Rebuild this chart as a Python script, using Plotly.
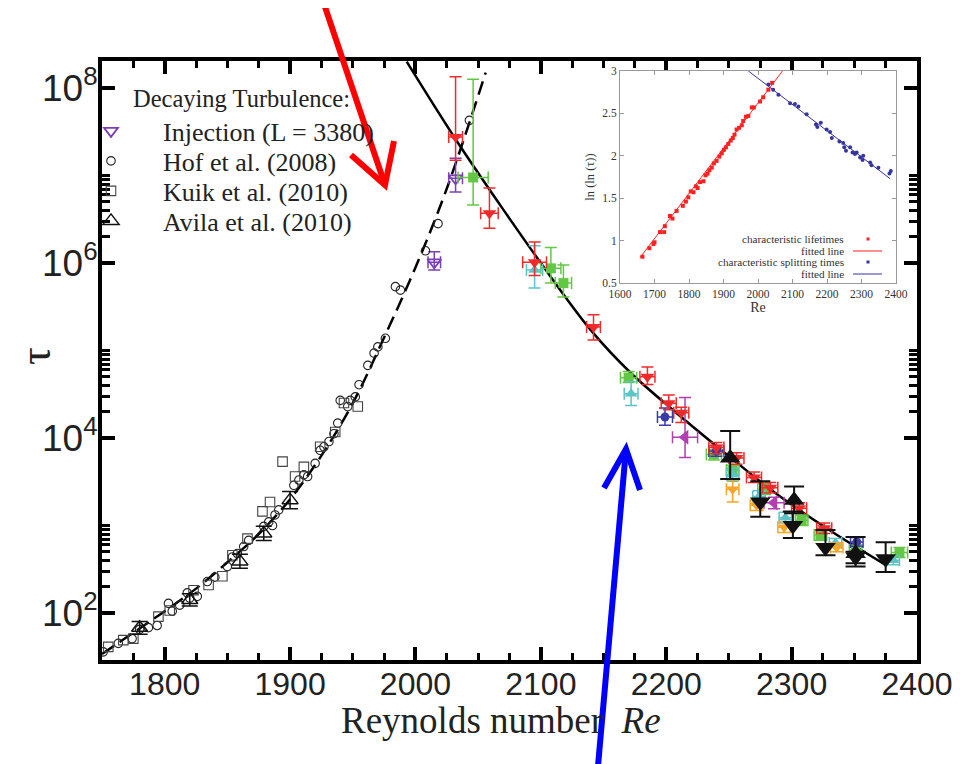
import plotly.graph_objects as go

# ---------------- data ----------------
# Decaying turbulence (left branch)
hof_re = [1751, 1763, 1774, 1780, 1787, 1794, 1803, 1806, 1812, 1818, 1820, 1826, 1834, 1840,
          1850, 1854, 1858, 1863, 1867, 1879, 1883, 1886, 1888, 1891, 1903, 1907, 1911, 1914,
          1920, 1924, 1927, 1931, 1935, 1938, 1940, 1946, 1948, 1952, 1955, 1962, 1967, 1970,
          1976, 1984, 1988, 2008, 2018, 2043]
hof_tau = [36, 45, 51, 65, 68, 72, 129, 105, 123, 170, 148, 155, 229, 257,
           339, 437, 479, 575, 676, 977, 1100, 1000, 1320, 1510, 2880, 3310, 3800, 3630,
           5130, 7240, 7940, 9120, 1.12e4, 1.48e4, 2.69e4, 2.29e4, 2.69e4, 2.95e4, 4.07e4, 6.76e4, 9.33e4, 1.10e5,
           1.38e5, 5.37e5, 4.9e5, 1.38e6, 2.82e6, 4.27e7]

kuik_re = [1755, 1767, 1775, 1795, 1804, 1823, 1835, 1846, 1854, 1866, 1878, 1884, 1894, 1904,
           1911, 1924, 1936, 1943, 1954]
kuik_tau = [41, 49, 51, 91, 107, 182, 209, 263, 457, 708, 1450, 1860, 5370, 3630,
            4680, 7940, 1.17e4, 2.51e4, 2.29e4]

avila_re = [1780, 1820, 1860, 1879, 1900]
avila_tau = [68, 141, 389, 813, 1950]
avila_hi = [80, 166, 470, 980, 2450]
avila_lo = [57, 120, 324, 676, 1550]

inj_re = [2015, 2032]
inj_tau = [1.02e6, 9.3e6]
inj_hi = [1.35e6, 1.58e7]
inj_lo = [8.3e5, 6.5e6]
inj_xerr = [5, 5.5]

# Splitting (right branch), several data sets
red_re = [2032, 2059, 2095, 2142, 2185, 2202, 2212, 2240, 2256, 2270, 2283, 2306, 2326]
red_tau = [2.75e7, 3.7e6, 1.02e6, 1.86e5, 5.0e4, 2.5e4, 1.95e4, 7.8e3, 5.9e3, 3.55e3, 2.7e3, 1.58e3, 930]
red_hi = [1.35e8, 7.2e6, 1.74e6, 2.57e5, 6.5e4, 3.1e4, 2.25e4, 8.9e3, 6.8e3, 4.1e3, 3.1e3, 1.82e3, 1070]
red_lo = [1.5e7, 2.5e6, 7.2e5, 1.32e5, 4.1e4, 2.1e4, 1.5e4, 6.6e3, 5.0e3, 3.1e3, 2.35e3, 1.38e3, 810]
red_xerr = [5.5, 7, 9.5, 5.5, 6, 6, 6, 6, 6, 6, 6, 6, 6]

green_re = [2046, 2108, 2118, 2170, 2238, 2253, 2278, 2308, 2323, 2351, 2386]
green_tau = [9.5e6, 8.7e5, 5.9e5, 4.9e4, 6.5e3, 4.3e3, 2.6e3, 1.15e3, 780, 525, 490]
green_hi = [1.26e8, 1.5e6, 9.5e5, 5.75e4, 7.4e3, 4.9e3, 3.0e3, 1.32e3, 890, 600, 560]
green_lo = [4.6e6, 5.9e5, 4.1e5, 4.3e4, 5.6e3, 3.7e3, 2.26e3, 1.0e3, 680, 460, 430]
green_xerr = [12, 8, 6.5, 6.5, 6, 5, 5, 5, 5, 5, 6.5]

cyan_re = [2095, 2172, 2253, 2274, 2295, 2335, 2381]
cyan_tau = [8.3e5, 3.2e4, 3.8e3, 2.15e3, 1.23e3, 630, 400]
cyan_hi = [1.58e6, 4.4e4, 4.5e3, 2.5e3, 1.42e3, 710, 450]
cyan_lo = [5.2e5, 2.35e4, 3.2e3, 1.85e3, 1.07e3, 560, 355]
cyan_xerr = [6.5, 5.5, 5, 5, 5, 5, 5]

blue_re = [2199, 2240, 2352]
blue_tau = [1.74e4, 7.1e3, 650]
blue_hi = [2.2e4, 8.2e3, 730]
blue_lo = [1.4e4, 6.2e3, 580]
blue_xerr = [6, 6, 5]

mag_re = [2215, 2286]
mag_tau = [1.02e4, 1.82e3]
mag_hi = [2.9e4, 2.1e3]
mag_lo = [6.0e3, 1.55e3]
mag_xerr = [10, 8]

orange_re = [2253, 2272, 2294, 2336]
orange_tau = [2.6e3, 1.7e3, 955, 560]
orange_hi = [3.3e3, 1.95e3, 1.1e3, 630]
orange_lo = [1.86e3, 1.48e3, 830, 500]
orange_xerr = [5, 5, 5, 5]

bup_re = [2251, 2302, 2351]
bup_tau = [5.9e3, 1.95e3, 480]
bup_hi = [1.2e4, 2.8e3, 740]
bup_lo = [3.4e3, 1.38e3, 340]

bdn_re = [2275, 2301, 2327, 2351, 2375]
bdn_tau = [1.86e3, 1.0e3, 560, 437, 417]
bdn_hi = [3.2e3, 1.45e3, 890, 500, 645]
bdn_lo = [1.26e3, 720, 457, 370, 295]

# Fitted curves
decay_fit_re = [1750, 1800, 1825, 1850, 1875, 1900, 1925, 1950, 1975, 2000, 2025, 2056]
decay_fit_tau = [34, 105, 190, 380, 800, 2000, 6300, 2.5e4, 1.41e5, 8.9e5, 7.1e6, 1.5e8]
split_fit_re = [1993, 2032, 2068, 2100, 2140, 2172, 2207, 2250, 2287, 2330, 2375]
split_fit_tau = [2.0e8, 2.6e7, 4.5e6, 1.0e6, 1.7e5, 5.5e4, 2.0e4, 6.2e3, 2.35e3, 890, 355]

# Inset: ln(ln(tau)) vs Re
in_life_re = [1665, 1685, 1697, 1700, 1716, 1728, 1730, 1745, 1752, 1764, 1782, 1791, 1798, 1805,
              1813, 1820, 1825, 1832, 1842, 1848, 1854, 1859, 1866, 1872, 1880, 1888, 1895, 1901,
              1907, 1914, 1921, 1927, 1932, 1938, 1945, 1953, 1957, 1965, 1972, 1982, 1988, 2006,
              2015, 2030, 2041]
in_life_val = [0.81, 0.91, 0.96, 0.98, 1.10, 1.10, 1.17, 1.29, 1.26, 1.35, 1.41, 1.46, 1.51, 1.58,
               1.57, 1.64, 1.62, 1.69, 1.70, 1.77, 1.79, 1.83, 1.86, 1.91, 1.94, 1.99, 2.03, 2.07,
               2.10, 2.14, 2.18, 2.21, 2.25, 2.31, 2.33, 2.36, 2.41, 2.46, 2.47, 2.57, 2.57, 2.64,
               2.69, 2.78, 2.86]
in_split_re = [2030, 2044, 2059, 2093, 2107, 2117, 2141, 2168, 2172, 2182, 2199, 2209, 2214, 2236,
               2247, 2250, 2255, 2267, 2274, 2281, 2286, 2296, 2303, 2305, 2325, 2329, 2349, 2381, 2385]
in_split_val = [2.84, 2.78, 2.72, 2.62, 2.61, 2.58, 2.49, 2.37, 2.34, 2.39, 2.31, 2.28, 2.21, 2.17,
                2.15, 2.10, 2.06, 2.10, 2.04, 2.02, 2.04, 1.98, 1.95, 2.00, 1.92, 1.89, 1.86, 1.79, 1.82]
in_life_fit_re = [1658, 2071]
in_life_fit_val = [0.80, 3.0]
in_split_fit_re = [1972, 2383]
in_split_fit_val = [3.0, 1.73]

y_tickvals = [1e2, 1e4, 1e6, 1e8]
y_ticktext = ["10<sup>2</sup>", "10<sup>4</sup>", "10<sup>6</sup>", "10<sup>8</sup>"]
y_minor_vals = [k * 10 ** n for n in (2, 4, 6) for k in range(2, 10)] + [1e3, 1e5, 1e7]

# ---------------- styling / layout geometry ----------------
OFF = 8                      # page offset of the figure (body margin)
FW, FH = 960 - OFF, 764 - OFF
BOX_L, BOX_R, BOX_T, BOX_B = 102, 917, 61, 660   # plot box in page pixels
ML, MT = BOX_L - OFF, BOX_T - OFF
MR, MB = FW - (BOX_R - OFF), FH - (BOX_B - OFF)
PW, PH = BOX_R - BOX_L, BOX_B - BOX_T

SANS = "Liberation Sans, Arial, sans-serif"
SERIF = "Liberation Serif, Times New Roman, serif"

RED = "#f02a2a"
GREEN = "#62c843"
CYAN = "#5cc3c6"
BLUE = "#3a3aa8"
MAG = "#b23fb0"
ORANGE = "#f7a623"
PURPLE = "#7b3fb5"


def pxx(x):
    return (x - BOX_L) / PW


def pxy(y):
    return (BOX_B - y) / PH


def yerr(tau, hi, lo, color, width=5, thick=1.5):
    return dict(type="data", symmetric=False,
                array=[h - t for h, t in zip(hi, tau)],
                arrayminus=[t - l for t, l in zip(tau, lo)],
                color=color, thickness=thick, width=width)


def xerr(vals, color, width=5, thick=1.5):
    return dict(type="data", array=vals, color=color, thickness=thick, width=width)


fig = go.Figure()

# fitted curves
fig.add_trace(go.Scatter(x=decay_fit_re, y=decay_fit_tau, mode="lines", line_shape="spline",
                         line=dict(color="black", width=2.5, dash="14px,7px"), showlegend=False))
fig.add_trace(go.Scatter(x=split_fit_re, y=split_fit_tau, mode="lines", line_shape="spline",
                         line=dict(color="black", width=2.5), showlegend=False))

# left branch data (each in its own legend row)
fig.add_trace(go.Scatter(x=inj_re, y=inj_tau, mode="markers", name="Injection (L = 3380)", legend="legend",
                         marker=dict(symbol="triangle-down-open", size=12, color=PURPLE, line=dict(width=1.8)),
                         error_y=yerr(inj_tau, inj_hi, inj_lo, PURPLE, 6),
                         error_x=xerr(inj_xerr, PURPLE, 6)))
fig.add_trace(go.Scatter(x=hof_re, y=hof_tau, mode="markers", name="Hof et al. (2008)", legend="legend2",
                         marker=dict(symbol="circle-open", size=8.5, color="#222", line=dict(width=1.1))))
fig.add_trace(go.Scatter(x=kuik_re, y=kuik_tau, mode="markers", name="Kuik et al. (2010)", legend="legend3",
                         marker=dict(symbol="square-open", size=9.5, color="#444", line=dict(width=1.1))))
fig.add_trace(go.Scatter(x=avila_re, y=avila_tau, mode="markers", name="Avila et al. (2010)", legend="legend4",
                         marker=dict(symbol="triangle-up-open", size=14, color="#111", line=dict(width=1.5)),
                         error_y=yerr(avila_tau, avila_hi, avila_lo, "#111", 8)))


# right branch data
def colored(re, tau, hi, lo, xe, color, symbol, size):
    fig.add_trace(go.Scatter(x=re, y=tau, mode="markers", showlegend=False,
                             marker=dict(symbol=symbol, size=size, color=color),
                             error_y=yerr(tau, hi, lo, color, 6),
                             error_x=xerr(xe, color, 6)))


colored(green_re, green_tau, green_hi, green_lo, green_xerr, GREEN, "square", 10)
colored(cyan_re, cyan_tau, cyan_hi, cyan_lo, cyan_xerr, CYAN, "triangle-up", 11)
colored(orange_re, orange_tau, orange_hi, orange_lo, orange_xerr, ORANGE, "triangle-down", 11)
colored(blue_re, blue_tau, blue_hi, blue_lo, blue_xerr, BLUE, "circle", 9)
colored(mag_re, mag_tau, mag_hi, mag_lo, mag_xerr, MAG, "triangle-left", 13)
colored(red_re, red_tau, red_hi, red_lo, red_xerr, RED, "triangle-down", 12)

fig.add_trace(go.Scatter(x=bup_re, y=bup_tau, mode="markers", showlegend=False,
                         marker=dict(symbol="triangle-up", size=18, color="#111"),
                         error_y=yerr(bup_tau, bup_hi, bup_lo, "#111", 10, 2)))
fig.add_trace(go.Scatter(x=bdn_re, y=bdn_tau, mode="markers", showlegend=False,
                         marker=dict(symbol="triangle-down", size=18, color="#111"),
                         error_y=yerr(bdn_tau, bdn_hi, bdn_lo, "#111", 10, 2)))

# inset
fig.add_trace(go.Scatter(x=in_life_fit_re, y=in_life_fit_val, mode="lines", xaxis="x2", yaxis="y2",
                         line=dict(color="#ff2020", width=1), showlegend=False))
fig.add_trace(go.Scatter(x=in_split_fit_re, y=in_split_fit_val, mode="lines", xaxis="x2", yaxis="y2",
                         line=dict(color="#3535a0", width=1), showlegend=False))
fig.add_trace(go.Scatter(x=in_life_re, y=in_life_val, mode="markers", xaxis="x2", yaxis="y2",
                         marker=dict(symbol="square", size=4, color="#ff2020"), showlegend=False))
fig.add_trace(go.Scatter(x=in_split_re, y=in_split_val, mode="markers", xaxis="x2", yaxis="y2",
                         marker=dict(symbol="circle", size=4, color="#3535a0"), showlegend=False))

axis_common = dict(showline=True, linecolor="black", linewidth=4, mirror="allticks",
                   ticks="inside", tickcolor="black", tickwidth=4, ticklen=13,
                   showgrid=False, zeroline=False)

legend_rows = [131, 161, 191, 221]
legend_style = dict(xanchor="left", yanchor="middle", itemwidth=94,
                    font=dict(family=SERIF, size=26, color="#222"), bgcolor="rgba(0,0,0,0)",
                    borderwidth=0)

fig.update_layout(
    width=FW, height=FH,
    margin=dict(l=ML, r=MR, t=MT, b=MB, autoexpand=False),
    paper_bgcolor="white", plot_bgcolor="white",
    xaxis=dict(axis_common, range=[1750, 2400], tick0=1800, dtick=100,
               tickfont=dict(family=SANS, size=32, color="#222"), ticklabelstandoff=-7,
               minor=dict(dtick=25, tick0=1750, ticks="inside", ticklen=7, tickwidth=2.5, tickcolor="black")),
    yaxis=dict(axis_common, type="log", range=[1.463, 8.309],
               tickmode="array", tickvals=y_tickvals, ticktext=y_ticktext,
               tickfont=dict(family=SANS, size=37, color="#222"), ticklabelstandoff=-7,
               minor=dict(tickmode="array", tickvals=y_minor_vals, ticks="inside", ticklen=8,
                          tickwidth=2.5, tickcolor="black")),
    xaxis2=dict(domain=[pxx(620), pxx(896)], anchor="y2", range=[1600, 2400], dtick=100,
                showline=True, linecolor="#999", linewidth=1, mirror="allticks",
                ticks="inside", ticklen=4, tickcolor="#999", showgrid=False, zeroline=False,
                tickfont=dict(family=SERIF, size=11.5, color="#333"),
                title=dict(text="Re", font=dict(family=SERIF, size=14, color="#333"), standoff=0)),
    yaxis2=dict(domain=[pxy(283), pxy(71)], anchor="x2", range=[0.5, 3], dtick=0.5,
                showline=True, linecolor="#999", linewidth=1, mirror="allticks",
                ticks="inside", ticklen=4, tickcolor="#999", showgrid=False, zeroline=False,
                tickfont=dict(family=SERIF, size=11.5, color="#333"),
                title=dict(text="ln (ln (τ))", font=dict(family=SERIF, size=12.5, color="#333"), standoff=4)),
    legend=dict(legend_style, x=pxx(59), y=pxy(legend_rows[0])),
    legend2=dict(legend_style, x=pxx(59), y=pxy(legend_rows[1])),
    legend3=dict(legend_style, x=pxx(59), y=pxy(legend_rows[2])),
    legend4=dict(legend_style, x=pxx(59), y=pxy(legend_rows[3])),
    showlegend=True,
)

# main axis titles (placed as in the reference)
fig.add_annotation(x=pxx(501), y=pxy(720), xref="paper", yref="paper", xanchor="center", yanchor="middle",
                   text="Reynolds number&nbsp;&nbsp;<i>Re</i>", showarrow=False,
                   font=dict(family=SERIF, size=37, color="#222"))
fig.add_annotation(x=pxx(35), y=pxy(356), xref="paper", yref="paper", xanchor="center", yanchor="middle",
                   text="τ", textangle=-90, showarrow=False,
                   font=dict(family=SERIF, size=44, color="#222"))

# legend heading
fig.add_annotation(x=pxx(131), y=pxy(99), xref="paper", yref="paper", xanchor="left", yanchor="middle",
                   text="Decaying Turbulence:", showarrow=False,
                   font=dict(family=SERIF, size=24.5, color="#222"))

# inset key
inset_key = [("characteristic lifetimes", "#ff2020", "dot"),
             ("fitted line", "#ff2020", "line"),
             ("characteristic splitting times", "#3535a0", "dot"),
             ("fitted line", "#3535a0", "line")]
key_rows = [239, 251, 262, 274]
for (label, col, kind), ry in zip(inset_key, key_rows):
    fig.add_annotation(x=pxx(846), y=pxy(ry), xref="paper", yref="paper", xanchor="right", yanchor="middle",
                       text=label, showarrow=False, font=dict(family=SERIF, size=11.2, color="#333"))
    if kind == "line":
        fig.add_shape(type="line", xref="paper", yref="paper", x0=pxx(853), x1=pxx(882),
                      y0=pxy(ry), y1=pxy(ry), line=dict(color=col, width=1))
    else:
        fig.add_shape(type="rect", xref="paper", yref="paper", x0=pxx(866.5), x1=pxx(869.5),
                      y0=pxy(ry + 1.5), y1=pxy(ry - 1.5), line=dict(width=0), fillcolor=col)

# overlay arrows (page-pixel positions of the drawn arrows)
arrows = [
    ("#ff0000", (322, -2), (385, 185), (351, 155), (394, 141)),
    ("#0000ff", (598, 766), (626, 449), (604, 488), (640, 490)),
]
for col, tail, tip, w1, w2 in arrows:
    fig.add_shape(type="line", xref="paper", yref="paper", x0=pxx(tail[0]), y0=pxy(tail[1]),
                  x1=pxx(tip[0]), y1=pxy(tip[1]), line=dict(color=col, width=6))
    fig.add_shape(type="path", xref="paper", yref="paper",
                  path=f"M{pxx(w1[0])},{pxy(w1[1])} L{pxx(tip[0])},{pxy(tip[1])} L{pxx(w2[0])},{pxy(w2[1])}",
                  line=dict(color=col, width=6))

fig.write_html("out.html")
